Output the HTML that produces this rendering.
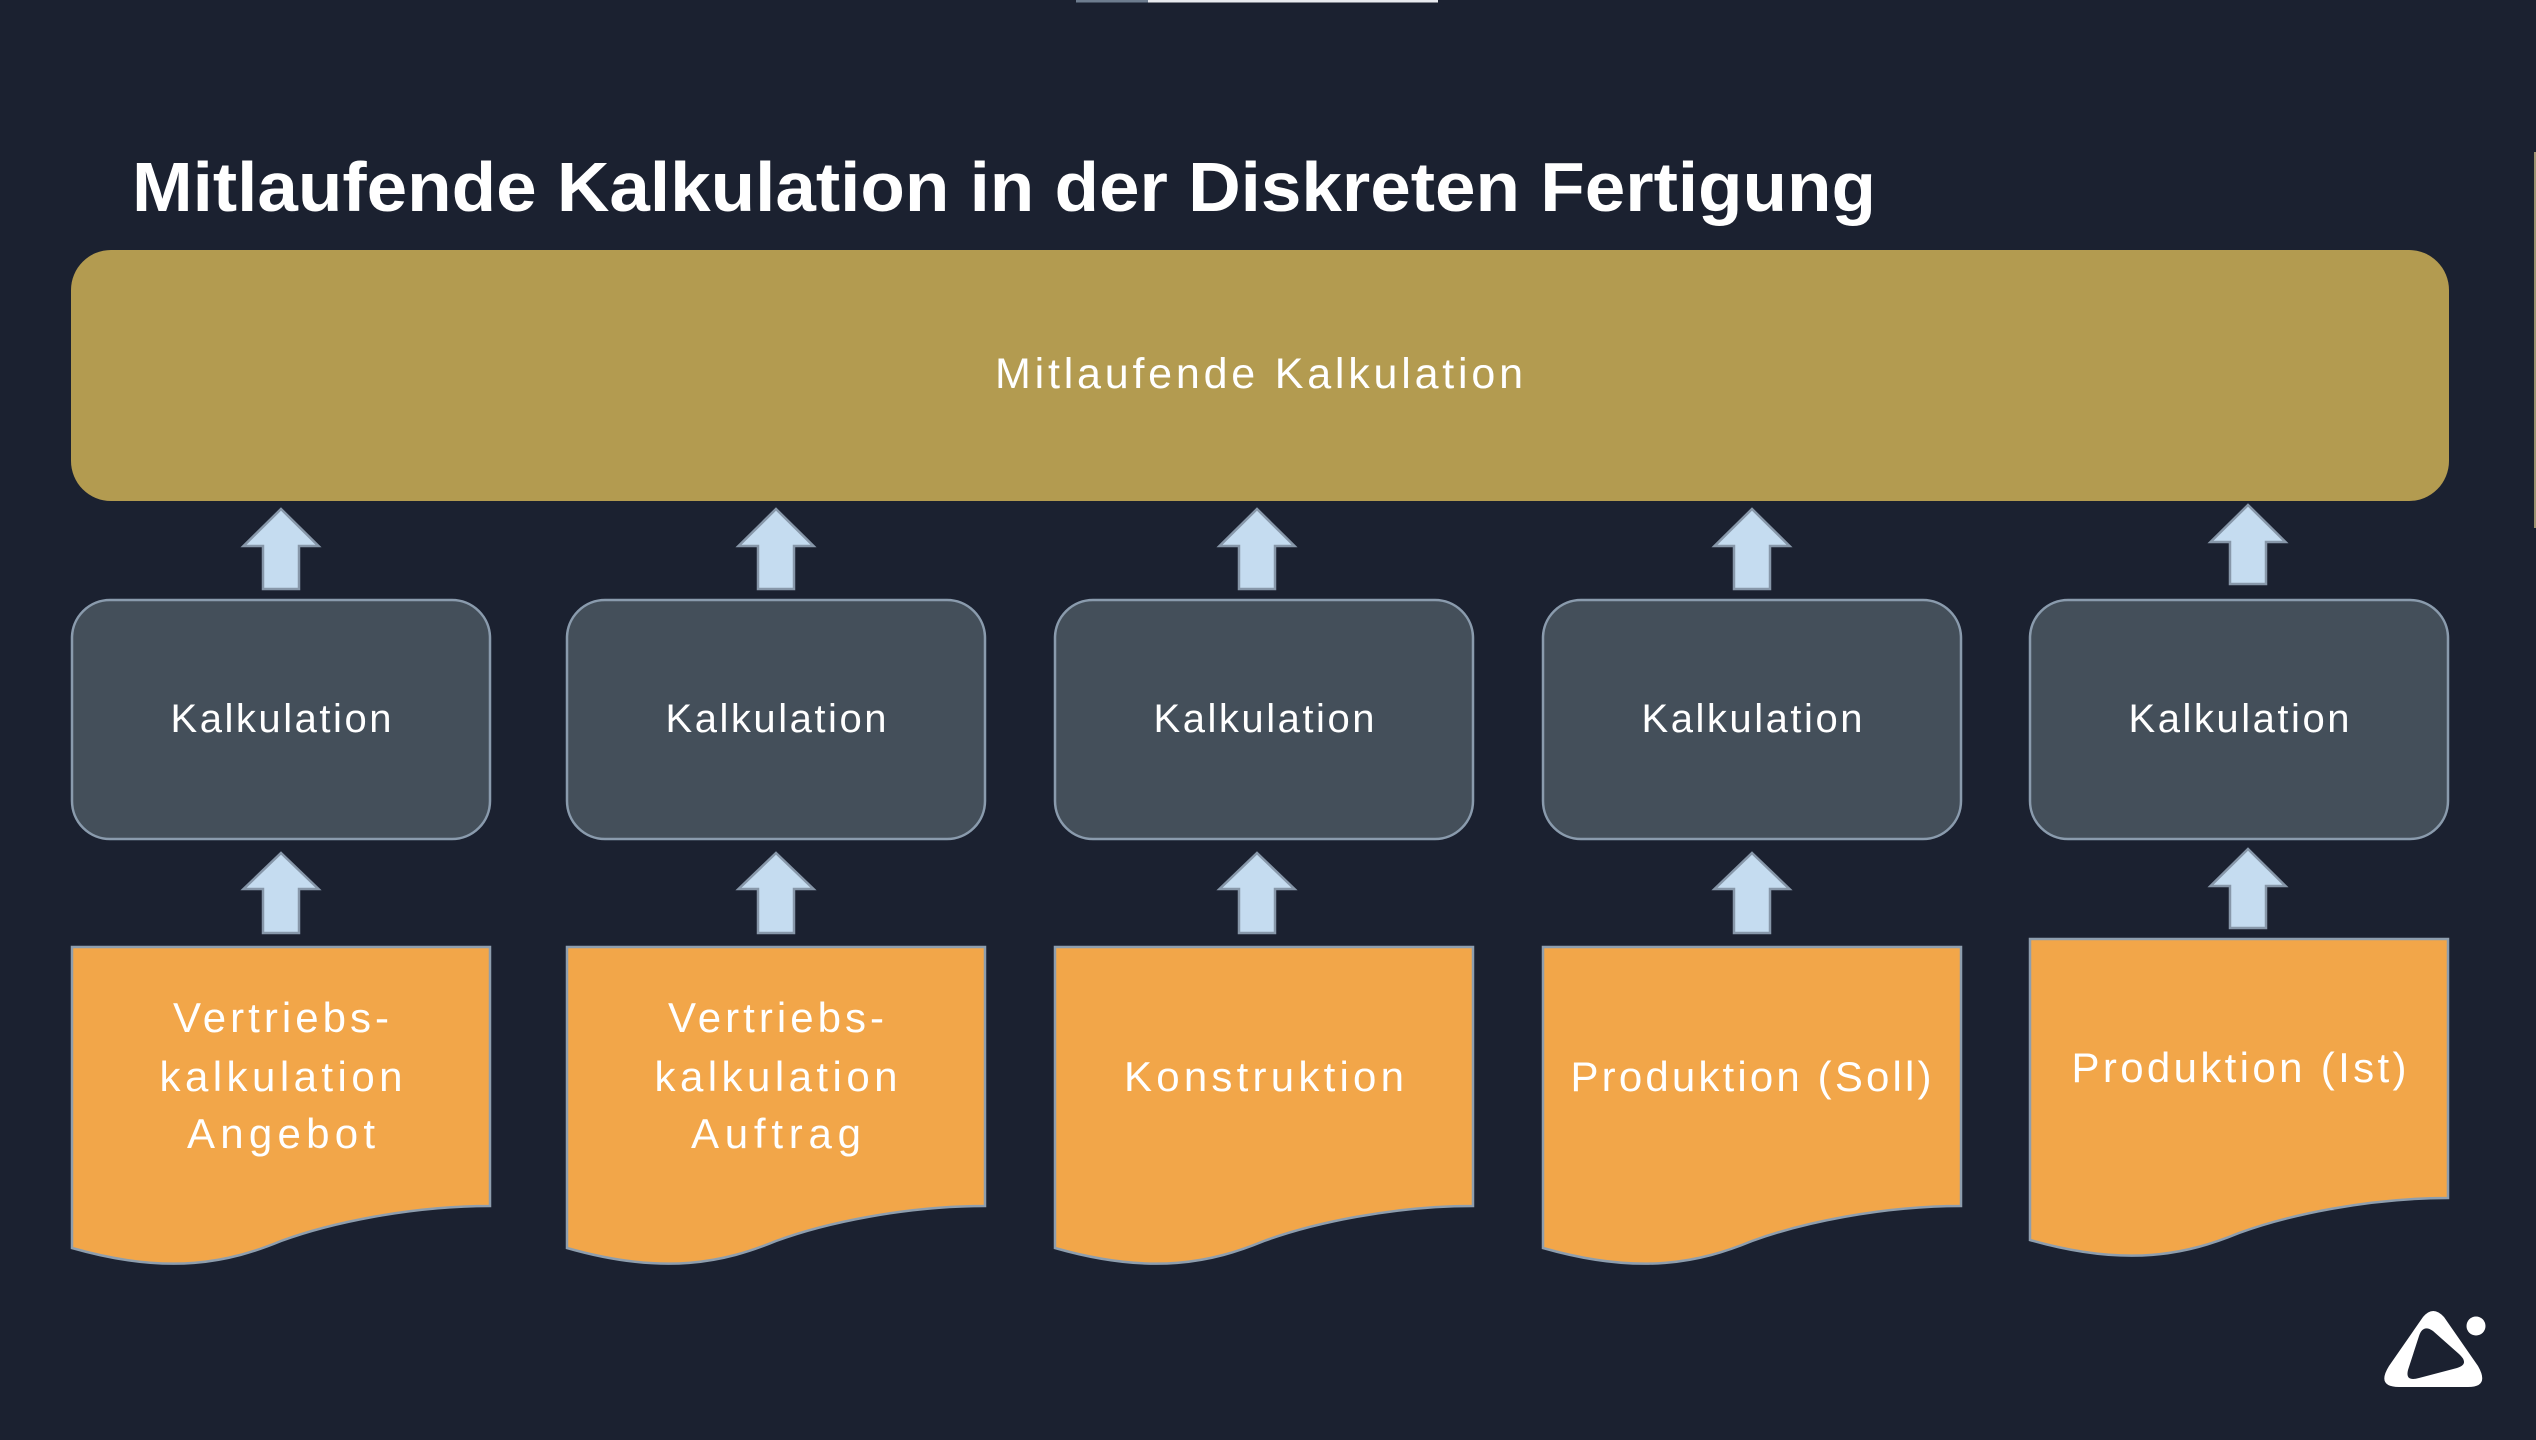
<!DOCTYPE html>
<html><head><meta charset="utf-8"><style>
html,body{margin:0;padding:0;background:#1B2130;}
svg{display:block;}
</style></head><body>
<svg width="2536" height="1440" viewBox="0 0 2536 1440" xmlns="http://www.w3.org/2000/svg" font-family="'Liberation Sans', sans-serif">
<rect width="2536" height="1440" fill="#1B2130"/>
<!-- top progress bar -->
<rect x="1076" y="0" width="72" height="2.5" fill="#6E7D8F"/>
<rect x="1148" y="0" width="290" height="2.5" fill="#E8EAEE"/>
<!-- right edge line -->
<rect x="2534" y="152" width="2" height="376" fill="#9C9270"/>

<!-- title -->
<text x="132" y="211" font-size="70" font-weight="700" fill="#FFFFFF" textLength="1744" lengthAdjust="spacingAndGlyphs">Mitlaufende Kalkulation in der Diskreten Fertigung</text>

<!-- gold bar -->
<rect x="71" y="250" width="2378" height="251" rx="40" ry="40" fill="#B39B50"/>
<text x="1259" y="388" font-size="43" fill="#FFFFFF" text-anchor="middle" textLength="528" lengthAdjust="spacing">Mitlaufende Kalkulation</text>

<g stroke="#8A9BAD" stroke-width="2.5" fill="#444F5A">
<rect x="72" y="600" width="418" height="239" rx="38" ry="38"/>
<rect x="567" y="600" width="418" height="239" rx="38" ry="38"/>
<rect x="1055" y="600" width="418" height="239" rx="38" ry="38"/>
<rect x="1543" y="600" width="418" height="239" rx="38" ry="38"/>
<rect x="2030" y="600" width="418" height="239" rx="38" ry="38"/>
</g>
<g font-size="40" fill="#FFFFFF" text-anchor="middle">
<text x="281" y="732" textLength="221" lengthAdjust="spacing">Kalkulation</text>
<text x="776" y="732" textLength="221" lengthAdjust="spacing">Kalkulation</text>
<text x="1264" y="732" textLength="221" lengthAdjust="spacing">Kalkulation</text>
<text x="1752" y="732" textLength="221" lengthAdjust="spacing">Kalkulation</text>
<text x="2239" y="732" textLength="221" lengthAdjust="spacing">Kalkulation</text>
</g>

<!-- arrows -->
<g fill="#C5DCF0" stroke="#8797A9" stroke-width="2.5" stroke-linejoin="miter">
<path d="M281,509 L318.5,546 L299,546 L299,589 L263,589 L263,546 L243.5,546 Z"/>
<path d="M776,509 L813.5,546 L794,546 L794,589 L758,589 L758,546 L738.5,546 Z"/>
<path d="M1257,509 L1294.5,546 L1275,546 L1275,589 L1239,589 L1239,546 L1219.5,546 Z"/>
<path d="M1752,509 L1789.5,546 L1770,546 L1770,589 L1734,589 L1734,546 L1714.5,546 Z"/>
<path d="M2248,505 L2285.5,542 L2266,542 L2266,584 L2230,584 L2230,542 L2210.5,542 Z"/>

<path d="M281,853 L318.5,889 L299,889 L299,933 L263,933 L263,889 L243.5,889 Z"/>
<path d="M776,853 L813.5,889 L794,889 L794,933 L758,933 L758,889 L738.5,889 Z"/>
<path d="M1257,853 L1294.5,889 L1275,889 L1275,933 L1239,933 L1239,889 L1219.5,889 Z"/>
<path d="M1752,853 L1789.5,889 L1770,889 L1770,933 L1734,933 L1734,889 L1714.5,889 Z"/>
<path d="M2248,849 L2285.5,886 L2266,886 L2266,928 L2230,928 L2230,886 L2210.5,886 Z"/>
</g>

<!-- document shapes -->
<g fill="#F2A649" stroke="#8E9EAE" stroke-width="2.5">
<path d="M72,947 H490 V1206 C410,1206 330,1223 281,1241 C230,1262 170,1276 72,1248 Z"/>
<path d="M567,947 H985 V1206 C905,1206 825,1223 776,1241 C725,1262 665,1276 567,1248 Z"/>
<path d="M1055,947 H1473 V1206 C1393,1206 1313,1223 1264,1241 C1213,1262 1153,1276 1055,1248 Z"/>
<path d="M1543,947 H1961 V1206 C1881,1206 1801,1223 1752,1241 C1701,1262 1641,1276 1543,1248 Z"/>
<path d="M2030,939 H2448 V1198 C2368,1198 2288,1215 2239,1233 C2188,1254 2128,1268 2030,1240 Z"/>
</g>
<g font-size="42" fill="#FFFFFF" text-anchor="middle">
<text x="281" y="1032" textLength="216" lengthAdjust="spacing">Vertriebs-</text>
<text x="281" y="1091" textLength="243" lengthAdjust="spacing">kalkulation</text>
<text x="281" y="1148" textLength="188" lengthAdjust="spacing">Angebot</text>

<text x="776" y="1032" textLength="216" lengthAdjust="spacing">Vertriebs-</text>
<text x="776" y="1091" textLength="243" lengthAdjust="spacing">kalkulation</text>
<text x="776" y="1148" textLength="170" lengthAdjust="spacing">Auftrag</text>

<text x="1264" y="1091" textLength="280" lengthAdjust="spacing">Konstruktion</text>
<text x="1751" y="1091" textLength="361" lengthAdjust="spacing">Produktion (Soll)</text>
<text x="2239" y="1082" textLength="335" lengthAdjust="spacing">Produktion (Ist)</text>
</g>

<!-- logo -->
<path fill="#FFFFFF" fill-rule="evenodd" d="M2423,1317 Q2433,1305 2444,1317 L2478,1366 Q2490,1387 2468,1387 L2399,1387 Q2376,1387 2389,1366 Z M2419,1336 Q2423,1324 2433,1331 L2459,1354 Q2470,1364 2457,1368 L2419,1378 Q2405,1382 2408,1370 Z"/>
<circle cx="2476" cy="1326" r="9.5" fill="#FFFFFF"/>
</svg>
</body></html>
